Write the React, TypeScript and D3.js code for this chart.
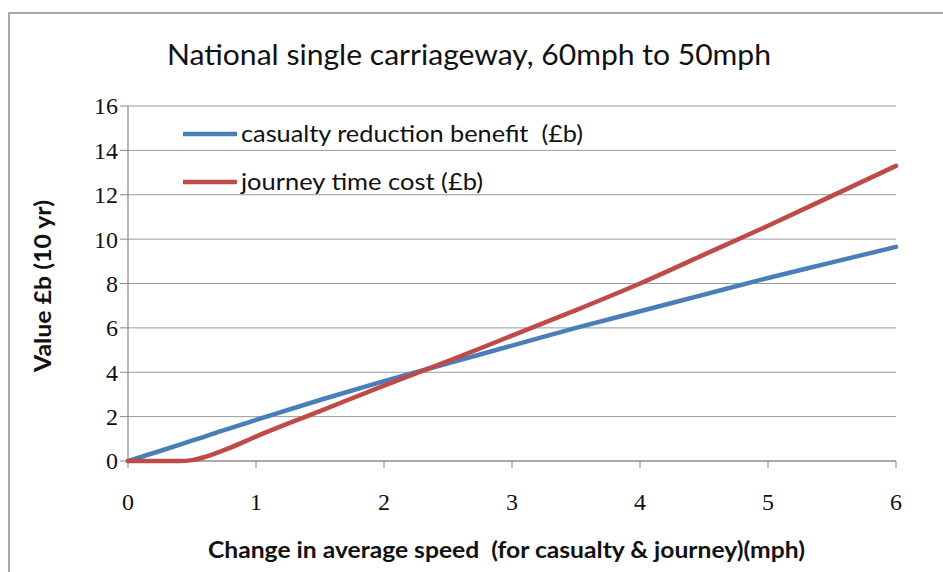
import React from 'react';
import * as d3 from 'd3';

const speedChange = [0, 0.25, 0.4, 0.5, 0.6, 0.7, 0.8, 1, 1.5, 2, 2.5, 3, 3.5, 4, 4.5, 5, 5.5, 6];
const casualtyBenefit = [0, 0.45, 0.73, 0.92, 1.1, 1.3, 1.48, 1.85, 2.75, 3.6, 4.4, 5.2, 6.0, 6.75, 7.5, 8.25, 8.95, 9.65];
const journeyCost = [0, 0, 0, 0.04, 0.18, 0.38, 0.6, 1.1, 2.25, 3.4, 4.5, 5.65, 6.8, 8.0, 9.3, 10.6, 11.95, 13.3];
const yTicks = [0, 2, 4, 6, 8, 10, 12, 14, 16];
const xTicks = [0, 1, 2, 3, 4, 5, 6];
const seriesNames = ['casualty reduction benefit  (£b)', 'journey time cost (£b)'];
const seriesColors = ['#4a7ebb', '#be4b48'];

const W = 943;
const H = 572;
const left = 128, right = 896, top = 106, bottom = 461;

export default function App() {
  const x = d3.scaleLinear().domain([0, 6]).range([left, right]);
  const y = d3.scaleLinear().domain([0, 16]).range([bottom, top]);

  const line = d3.line<[number, number]>()
    .x(d => x(d[0]))
    .y(d => y(d[1]))
    .curve(d3.curveMonotoneX);

  const series = [casualtyBenefit, journeyCost].map(vals =>
    speedChange.map((s, i) => [s, vals[i]] as [number, number])
  );

  const sans = 'Lato, "Open Sans", sans-serif';
  const serif = '"Liberation Serif", serif';

  return (
    <svg width={W} height={H} style={{ position: 'absolute', left: 0, top: 0, background: '#fff' }}>
      <rect x={9} y={13} width={W} height={H} fill="#fff" stroke="#8c8c8c" strokeWidth={1.5} />

      <text x={167} y={65} textLength={604} lengthAdjust="spacingAndGlyphs" fontFamily={sans} fontSize={28} fill="#111">
        National single carriageway, 60mph to 50mph
      </text>

      {/* gridlines */}
      {yTicks.map(t => (
        <line key={'g' + t} x1={left} x2={right} y1={y(t)} y2={y(t)} stroke="#9a9a9a" strokeWidth={1} />
      ))}

      {/* axes */}
      <line x1={left} x2={left} y1={top} y2={bottom} stroke="#868686" strokeWidth={1.2} />
      <line x1={left} x2={right} y1={bottom} y2={bottom} stroke="#868686" strokeWidth={1.2} />
      {yTicks.map(t => (
        <g key={'y' + t}>
          <line x1={left - 8} x2={left} y1={y(t)} y2={y(t)} stroke="#868686" />
          <text x={118} y={y(t)} dy="0.35em" textAnchor="end" fontFamily={serif} fontSize={24} fill="#111">
            {t}
          </text>
        </g>
      ))}
      {xTicks.map(t => (
        <g key={'x' + t}>
          <line x1={x(t)} x2={x(t)} y1={bottom} y2={bottom + 7} stroke="#868686" />
          <text x={x(t)} y={502} dy="0.35em" textAnchor="middle" fontFamily={serif} fontSize={24} fill="#111">
            {t}
          </text>
        </g>
      ))}

      {series.map((d, i) => (
        <path key={i} d={line(d) || ''} fill="none" stroke={seriesColors[i]} strokeWidth={4.5} strokeLinecap="round" />
      ))}

      {/* legend */}
      {seriesNames.map((n, i) => (
        <g key={n} transform={`translate(183,${134 + i * 48})`}>
          <line x1={0} x2={54} y1={0} y2={0} stroke={seriesColors[i]} strokeWidth={4.5} />
          <text x={58} y={0} dy="0.35em" textLength={i === 0 ? 342 : 242} lengthAdjust="spacingAndGlyphs"
            style={{ whiteSpace: 'pre' }} fontFamily={sans} fontSize={23} fill="#111">{n}</text>
        </g>
      ))}

      <text x={208} y={550} dy="0.35em" textLength={597} lengthAdjust="spacingAndGlyphs" style={{ whiteSpace: 'pre' }}
        fontFamily={sans} fontWeight="bold" fontSize={22} fill="#111">
        Change in average speed  (for casualty &amp; journey)(mph)
      </text>
      <text transform="translate(43,286) rotate(-90)" x={-86} dy="0.35em" textLength={172} lengthAdjust="spacingAndGlyphs"
        fontFamily={sans} fontWeight="bold" fontSize={22} fill="#111">
        Value £b (10 yr)
      </text>
    </svg>
  );
}
